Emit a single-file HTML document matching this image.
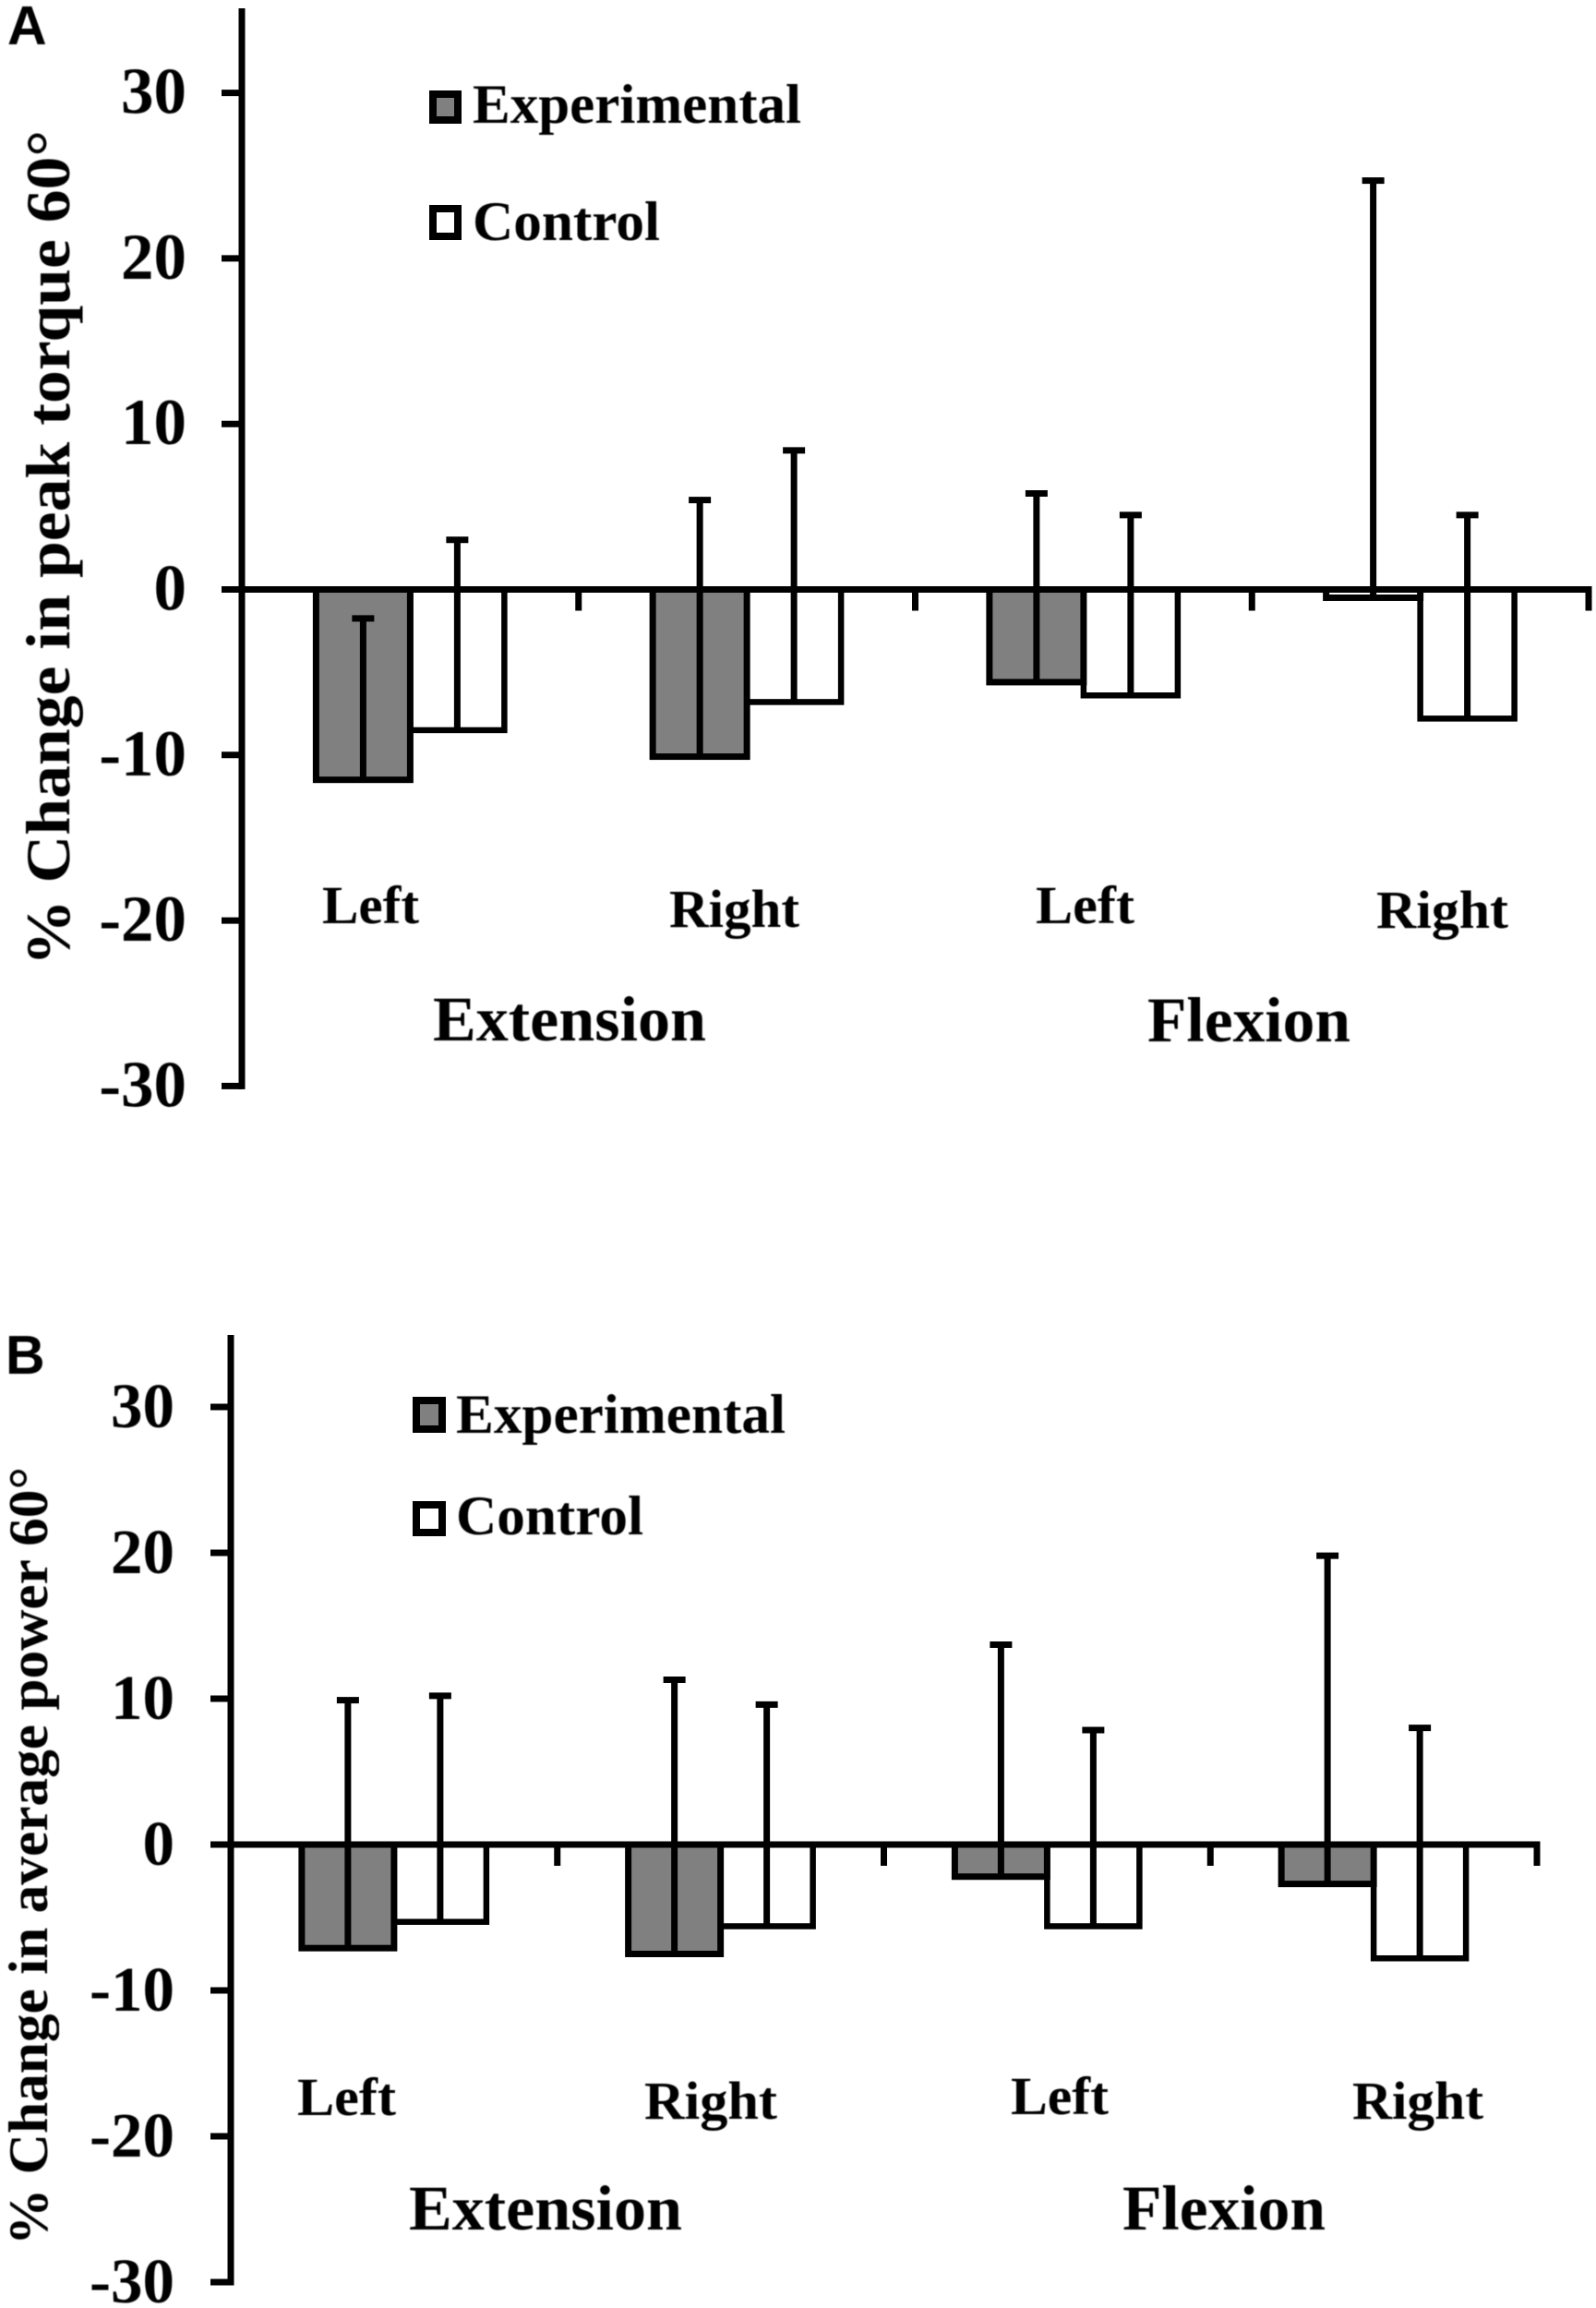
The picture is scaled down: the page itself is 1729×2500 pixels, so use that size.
<!DOCTYPE html>
<html>
<head>
<meta charset="utf-8">
<title>Change in peak torque and average power</title>
<style>
html,body{margin:0;padding:0;background:#fff;}
svg{display:block;}
text{font-family:"Liberation Serif",serif;font-weight:bold;fill:#000;filter:blur(0.5px);}
.panel-letter{font-family:"Liberation Sans",sans-serif;font-size:59px;}
</style>
</head>
<body>
<svg id="figure" xmlns="http://www.w3.org/2000/svg" width="1729" height="2500" viewBox="0 0 1729 2500">
  <rect x="0" y="0" width="1729" height="2500" fill="#fff"/>

  <g id="panel-a">
    <g id="marks-a"></g>
    <text class="panel-letter" x="8" y="48">A</text>
    <text transform="translate(75,1046) rotate(-90)" font-size="68" textLength="905" lengthAdjust="spacingAndGlyphs">% Change in peak torque 60°</text>
    <rect x="469" y="102" width="27" height="28" fill="#808080" stroke="#000" stroke-width="8"/>
    <text x="512" y="133" font-size="60" textLength="356" lengthAdjust="spacingAndGlyphs">Experimental</text>
    <rect x="469" y="226" width="27" height="30" fill="#fff" stroke="#000" stroke-width="8"/>
    <text x="512" y="260" font-size="60" textLength="203" lengthAdjust="spacingAndGlyphs">Control</text>
    <text x="349" y="1000" font-size="58" textLength="105" lengthAdjust="spacingAndGlyphs">Left</text>
    <text x="725" y="1004" font-size="58" textLength="141" lengthAdjust="spacingAndGlyphs">Right</text>
    <text x="1122" y="1000" font-size="58" textLength="107" lengthAdjust="spacingAndGlyphs">Left</text>
    <text x="1491" y="1005" font-size="58" textLength="143" lengthAdjust="spacingAndGlyphs">Right</text>
    <text x="469" y="1127" font-size="69" textLength="296" lengthAdjust="spacingAndGlyphs">Extension</text>
    <text x="1243" y="1128" font-size="69" textLength="220" lengthAdjust="spacingAndGlyphs">Flexion</text>
  </g>

  <g id="panel-b">
    <g id="marks-b"></g>
    <text class="panel-letter" x="6" y="1488">B</text>
    <text transform="translate(51,2432) rotate(-90)" font-size="60" textLength="843" lengthAdjust="spacingAndGlyphs">% Change in average power 60°</text>
    <rect x="451" y="1517" width="28" height="31" fill="#808080" stroke="#000" stroke-width="8"/>
    <text x="494" y="1552" font-size="60" textLength="357" lengthAdjust="spacingAndGlyphs">Experimental</text>
    <rect x="451" y="1630" width="28" height="30" fill="#fff" stroke="#000" stroke-width="8"/>
    <text x="494" y="1662" font-size="60" textLength="203" lengthAdjust="spacingAndGlyphs">Control</text>
    <text x="322" y="2291" font-size="58" textLength="107" lengthAdjust="spacingAndGlyphs">Left</text>
    <text x="698" y="2295" font-size="58" textLength="144" lengthAdjust="spacingAndGlyphs">Right</text>
    <text x="1095" y="2290" font-size="58" textLength="106" lengthAdjust="spacingAndGlyphs">Left</text>
    <text x="1465" y="2295" font-size="58" textLength="142" lengthAdjust="spacingAndGlyphs">Right</text>
    <text x="443" y="2415" font-size="69" textLength="296" lengthAdjust="spacingAndGlyphs">Extension</text>
    <text x="1216" y="2415" font-size="69" textLength="220" lengthAdjust="spacingAndGlyphs">Flexion</text>
  </g>
</svg>

<script>
// Data
const categories = ['extension-left', 'extension-right', 'flexion-left', 'flexion-right'];
const tickValues = [30, 20, 10, 0, -10, -20, -30];
const tickLabels = ['30', '20', '10', '0', '-10', '-20', '-30'];

const experimentalMeansA = [-11.5, -10.1, -5.6, -0.5];
const controlMeansA = [-8.5, -6.8, -6.4, -7.8];
const experimentalUpperA = [-1.75, 5.4, 5.8, 24.7];
const controlUpperA = [3.0, 8.4, 4.5, 4.5];

const experimentalMeansB = [-7.1, -7.5, -2.2, -2.7];
const controlMeansB = [-5.3, -5.6, -5.6, -7.8];
const experimentalUpperB = [9.9, 11.3, 13.7, 19.8];
const controlUpperB = [10.2, 9.6, 7.85, 8.0];

const SVG_NS = 'http://www.w3.org/2000/svg';

function makeLine(parent, x1, y1, x2, y2, width) {
  const l = document.createElementNS(SVG_NS, 'line');
  l.setAttribute('x1', x1);
  l.setAttribute('y1', y1);
  l.setAttribute('x2', x2);
  l.setAttribute('y2', y2);
  l.setAttribute('stroke', '#000');
  l.setAttribute('stroke-width', width);
  parent.appendChild(l);
  return l;
}

function drawPanel(cfg) {
  const root = document.getElementById(cfg.rootId);
  const yScale = function (v) { return cfg.zeroY - cfg.pxPerUnit * v; };
  const bandX = function (i) { return cfg.axisX + cfg.step * i; };
  const centerX = function (i) { return bandX(i) + cfg.step / 2; };

  categories.forEach(function (cat, i) {
    const c = centerX(i);

    const ctrl = document.createElementNS(SVG_NS, 'rect');
    ctrl.setAttribute('x', c);
    ctrl.setAttribute('y', yScale(0));
    ctrl.setAttribute('width', cfg.barWidth);
    ctrl.setAttribute('height', yScale(cfg.controlMeans[i]) - yScale(0));
    ctrl.setAttribute('fill', '#fff');
    ctrl.setAttribute('stroke', '#000');
    ctrl.setAttribute('stroke-width', 6.5);
    
    
    root.appendChild(ctrl);

    const exp = document.createElementNS(SVG_NS, 'rect');
    exp.setAttribute('x', c - cfg.barWidth);
    exp.setAttribute('y', yScale(0));
    exp.setAttribute('width', cfg.barWidth);
    exp.setAttribute('height', yScale(cfg.experimentalMeans[i]) - yScale(0));
    exp.setAttribute('fill', cfg.experimentalMeans[i] > -1 ? '#fff' : '#808080');
    exp.setAttribute('stroke', '#000');
    exp.setAttribute('stroke-width', 7);
    
    
    root.appendChild(exp);

    const expX = c - cfg.barWidth / 2;
    const expStem = makeLine(root, expX, yScale(cfg.experimentalMeans[i]), expX, yScale(cfg.experimentalUpper[i]), 7);
    
    
    const expCap = makeLine(root, expX - 12, yScale(cfg.experimentalUpper[i]), expX + 12, yScale(cfg.experimentalUpper[i]), 7);
    
    

    const ctrlX = c + cfg.barWidth / 2;
    const ctrlStem = makeLine(root, ctrlX, yScale(cfg.controlMeans[i]), ctrlX, yScale(cfg.controlUpper[i]), 7);
    
    
    const ctrlCap = makeLine(root, ctrlX - 12, yScale(cfg.controlUpper[i]), ctrlX + 12, yScale(cfg.controlUpper[i]), 7);
    
    
  });

  // y axis
  const yAxis = makeLine(root, cfg.axisX, cfg.axisTop, cfg.axisX, yScale(-30) + 3.5, 7);
  
  

  // x axis (zero line)
  const xAxis = makeLine(root, cfg.axisX, yScale(0), bandX(categories.length) + 3.5, yScale(0), 7);
  
  

  // category separators
  for (let i = 1; i <= categories.length; i++) {
    const sep = makeLine(root, bandX(i), yScale(0), bandX(i), yScale(0) + 23, 7);
    
    
  }

  // y ticks and labels
  tickValues.forEach(function (v, i) {
    const tick = makeLine(root, cfg.axisX - 22, yScale(v), cfg.axisX, yScale(v), 7);
    
    

    const t = document.createElementNS(SVG_NS, 'text');
    t.setAttribute('x', cfg.labelRight);
    t.setAttribute('y', yScale(v) + cfg.labelDy);
    t.setAttribute('text-anchor', 'end');
    t.setAttribute('font-size', cfg.labelSize);
    
    
    t.textContent = tickLabels[i];
    root.appendChild(t);
  });
}

drawPanel({
  rootId: 'marks-a',
  axisX: 262, axisTop: 9, zeroY: 638.5, pxPerUnit: 17.93,
  step: 364.75, barWidth: 102, labelRight: 202, labelDy: 22, labelSize: 71,
  experimentalMeans: experimentalMeansA,
  controlMeans: controlMeansA,
  experimentalUpper: experimentalUpperA,
  controlUpper: controlUpperA
});

drawPanel({
  rootId: 'marks-b',
  axisX: 250, axisTop: 1446, zeroY: 1998, pxPerUnit: 15.8,
  step: 353.75, barWidth: 100, labelRight: 189, labelDy: 22, labelSize: 69,
  experimentalMeans: experimentalMeansB,
  controlMeans: controlMeansB,
  experimentalUpper: experimentalUpperB,
  controlUpper: controlUpperB
});
</script>
</body>
</html>
